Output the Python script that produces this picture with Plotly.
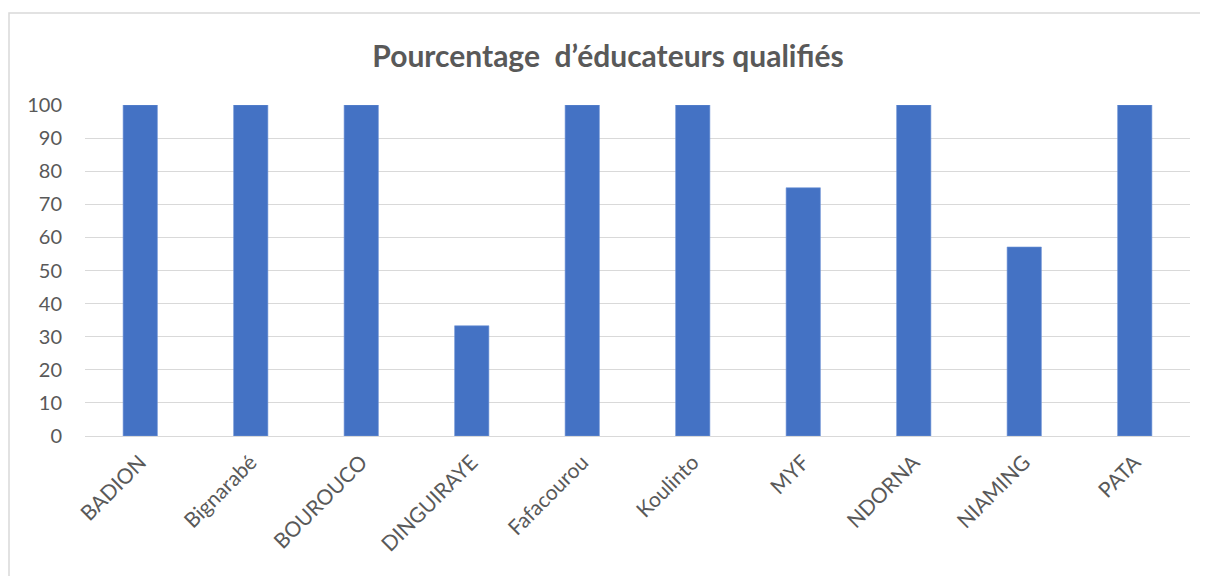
import plotly.graph_objects as go

# données
sites = ['BADION', 'Bignarabé', 'BOUROUCO', 'DINGUIRAYE', 'Fafacourou',
         'Koulinto', 'MYF', 'NDORNA', 'NIAMING', 'PATA']
pct_qualifies = [100, 100, 100, 33.3, 100, 100, 75, 100, 57.1, 100]
y_ticks = list(range(0, 101, 10))

FONT = 'Lato'
GRIS = '#595959'

fig = go.Figure(go.Bar(
    x=sites, y=pct_qualifies,
    marker=dict(color='#4472C4', line=dict(color='#6f93d6', width=0.6)),
    hoverinfo='x+y'
))

# la page ajoute 8px de marge autour de la figure
W, H = 1200, 568
ml, mr, mt, mb = 77, 18, 97, 140
pw, ph = W - ml - mr, H - mt - mb

# cadre du graphique (bordure gris clair)
fx0 = (1 - ml) / pw
fy1 = 1 + (mt - 5) / ph
fx1 = (W + 20 - ml) / pw
fy0 = -(mb + 20) / ph

fig.update_layout(
    width=W, height=H,
    margin=dict(l=ml, r=mr, t=mt, b=mb),
    paper_bgcolor='white',
    plot_bgcolor='white',
    title=dict(text='<b>Pourcentage  d’éducateurs qualifiés</b>',
               x=0.5, xanchor='center', y=1 - 48 / H, yanchor='middle',
               font=dict(family=FONT, size=30, color=GRIS)),
    font=dict(family=FONT, color=GRIS),
    bargap=0.69,
    showlegend=False,
    xaxis=dict(tickangle=-45, tickfont=dict(size=21, color=GRIS),
               showgrid=False, showline=False, ticks='', ticklabelstandoff=9),
    yaxis=dict(range=[0, 100], tickvals=y_ticks, tickfont=dict(size=20, color=GRIS),
               showgrid=True, gridcolor='#d9d9d9', gridwidth=1.3,
               zeroline=True, zerolinecolor='#d9d9d9', zerolinewidth=1.3,
               showline=False, ticks='', ticklabelstandoff=22),
    shapes=[dict(type='rect', xref='paper', yref='paper',
                 x0=fx0, x1=fx1, y0=fy0, y1=fy1,
                 line=dict(color='#d9d9d9', width=1.5), layer='below')]
)

fig.write_html('out.html')
